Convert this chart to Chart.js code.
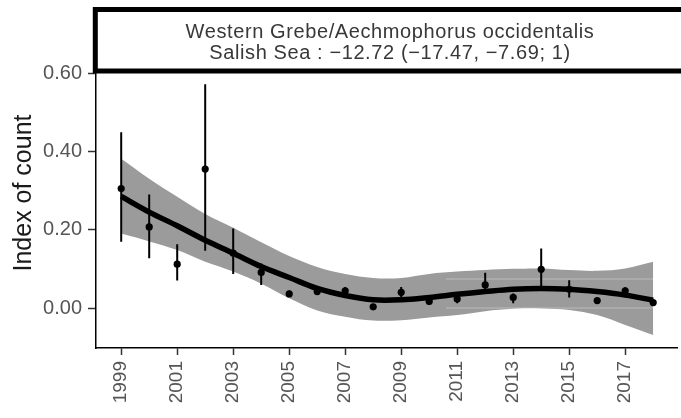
<!DOCTYPE html>
<html>
<head>
<meta charset="utf-8">
<script src="https://cdn.jsdelivr.net/npm/chart.js@4.4.1/dist/chart.umd.min.js"></script>
<style>
  html, body { margin: 0; padding: 0; background: #fff; overflow: hidden; }
  canvas { display: block; }
</style>
</head>
<body>
<canvas id="myChart" width="681" height="418"></canvas>
<script>
const years = [1999, 2000, 2001, 2002, 2003, 2004, 2005, 2006, 2007, 2008,
  2009, 2010, 2011, 2012, 2013, 2014, 2015, 2016, 2017, 2018];
// yearly index with its interval
const indexValues = [0.305, 0.207, 0.112, 0.355, 0.140, 0.091, 0.036, 0.042, 0.044, 0.003,
  0.040, 0.017, 0.023, 0.059, 0.027, 0.099, 0.048, 0.019, 0.044, 0.014];
const lowerCI = [0.169, 0.127, 0.070, 0.146, 0.087, 0.059, 0.030, 0.035, 0.031, -0.002,
  0.027, 0.008, 0.012, 0.046, 0.012, 0.048, 0.027, 0.014, 0.033, 0.010];
const upperCI = [0.449, 0.290, 0.163, 0.571, 0.203, 0.114, 0.044, 0.052, 0.054, 0.008,
  0.054, 0.025, 0.037, 0.090, 0.037, 0.152, 0.071, 0.024, 0.053, 0.018];
// smooth trend and its band
const trendFit = [0.285, 0.245, 0.210, 0.173, 0.140, 0.106, 0.078, 0.050, 0.032, 0.021,
  0.021, 0.027, 0.035, 0.042, 0.048, 0.050, 0.048, 0.042, 0.033, 0.020];
const bandLower = [0.190, 0.170, 0.148, 0.118, 0.093, 0.062, 0.025, -0.006, -0.022, -0.032,
  -0.031, -0.024, -0.018, -0.008, -0.002, -0.001, -0.005, -0.018, -0.043, -0.069];
const bandUpper = [0.381, 0.330, 0.284, 0.240, 0.205, 0.168, 0.133, 0.105, 0.087, 0.077,
  0.077, 0.087, 0.093, 0.097, 0.100, 0.101, 0.097, 0.095, 0.101, 0.118];
// faint light streaks seen inside the band on the right
const streakYears = [2010.6, 2018];
const streakA = [0.074, 0.074];
const streakB = [0.0, 0.0];

const xTickYears = [1999, 2001, 2003, 2005, 2007, 2009, 2011, 2013, 2015, 2017];
const yTickValues = [0, 0.2, 0.4, 0.6];

const stripLine1 = 'Western Grebe/Aechmophorus occidentalis';
const stripLine2 = 'Salish Sea : \u221212.72 (\u221217.47, \u22127.69; 1)';
const yTitle = 'Index of count';

const toXY = (xs, ys) => xs.map((x, i) => ({ x: x, y: ys[i] }));

const errorBarData = [];
years.forEach((yr, i) => {
  errorBarData.push({ x: yr, y: lowerCI[i] }, { x: yr, y: upperCI[i] }, { x: yr, y: null });
});

const stripPlugin = {
  id: 'strip',
  afterDraw(chart) {
    const ctx = chart.ctx;
    ctx.save();
    ctx.fillStyle = '#fff';
    ctx.strokeStyle = '#000';
    ctx.lineWidth = 5;
    ctx.fillRect(95.3, 9.5, 700, 61.5);
    ctx.strokeRect(95.3, 9.5, 700, 61.5);

    ctx.fillStyle = '#383838';
    ctx.font = '20px "Liberation Sans", Arial, sans-serif';
    ctx.textAlign = 'center';
    ctx.textBaseline = 'alphabetic';
    ctx.letterSpacing = '0.6px';
    ctx.fillText(stripLine1, 390, 37.5);
    ctx.fillText(stripLine2, 390, 59);
    ctx.letterSpacing = '0px';

    // y axis title
    ctx.translate(30.5, 193);
    ctx.rotate(-Math.PI / 2);
    ctx.fillStyle = '#1a1a1a';
    ctx.font = '25px "Liberation Sans", Arial, sans-serif';
    ctx.fillText(yTitle, 0, 0);
    ctx.restore();
  }
};

const ctx = document.getElementById('myChart').getContext('2d');
const config = {
  type: 'line',
  data: {
    datasets: [{
      label: 'band',
      data: toXY(years, bandUpper),
      borderWidth: 0,
      pointRadius: 0,
      tension: 0.35,
      fill: '+1',
      backgroundColor: '#9b9b9b',
      order: 6,
    },
    {
      label: 'band lower',
      data: toXY(years, bandLower),
      borderWidth: 0,
      pointRadius: 0,
      tension: 0.35,
      fill: false,
      order: 6,
    },
    {
      label: 'streak a',
      data: toXY(streakYears, streakA),
      borderColor: 'rgba(255,255,255,0.22)',
      borderWidth: 1.5,
      pointRadius: 0,
      order: 5,
    },
    {
      label: 'streak b',
      data: toXY(streakYears, streakB),
      borderColor: 'rgba(255,255,255,0.22)',
      borderWidth: 1.5,
      pointRadius: 0,
      order: 5,
    },
    {
      label: 'fit',
      data: toXY(years, trendFit),
      borderColor: '#000',
      borderWidth: 5.5,
      pointRadius: 0,
      tension: 0.35,
      order: 3,
    },
    {
      label: 'interval',
      data: errorBarData,
      borderColor: '#000',
      borderWidth: 2,
      pointRadius: 0,
      tension: 0,
      spanGaps: false,
      order: 2,
    },
    {
      label: 'index',
      data: toXY(years, indexValues),
      showLine: false,
      pointRadius: 3.6,
      pointBorderWidth: 0,
      pointBackgroundColor: '#000',
      order: 1,
    }],
  },
  options: {
    responsive: false,
    animation: false,
    layout: { padding: { top: 73, left: 0, right: 0, bottom: 0 } },
    plugins: {
      legend: { display: false },
      tooltip: { enabled: false },
    },
    scales: {
      x: {
        type: 'linear',
        min: 1998.10,
        max: 2018.85,
        offset: false,
        afterBuildTicks: (scale) => {
          scale.ticks = xTickYears.map(v => ({ value: v }));
        },
        afterFit: (scale) => { scale.height = 70; },
        grid: {
          drawOnChartArea: false,
          drawTicks: true,
          tickLength: 7,
          tickColor: '#333',
          tickWidth: 1.5,
        },
        border: { display: true, color: '#000', width: 1.5 },
        ticks: {
          minRotation: 90,
          maxRotation: 90,
          padding: 6,
          color: '#555',
          font: { family: '"Liberation Sans", Arial, sans-serif', size: 19 },
          callback: (v) => String(v),
        },
      },
      y: {
        type: 'linear',
        min: -0.102,
        max: 0.6,
        afterBuildTicks: (scale) => {
          scale.ticks = yTickValues.map(v => ({ value: v }));
        },
        afterFit: (scale) => { scale.width = 96; },
        grid: {
          drawOnChartArea: false,
          drawTicks: true,
          tickLength: 8,
          tickColor: '#333',
          tickWidth: 1.5,
        },
        border: { display: true, color: '#000', width: 1.5 },
        ticks: {
          padding: 6,
          color: '#555',
          font: { family: '"Liberation Sans", Arial, sans-serif', size: 20 },
          callback: (v) => v.toFixed(2),
        },
      },
    },
  },
  plugins: [stripPlugin],
};
const myChart = new Chart(ctx, config);
</script>
</body>
</html>
